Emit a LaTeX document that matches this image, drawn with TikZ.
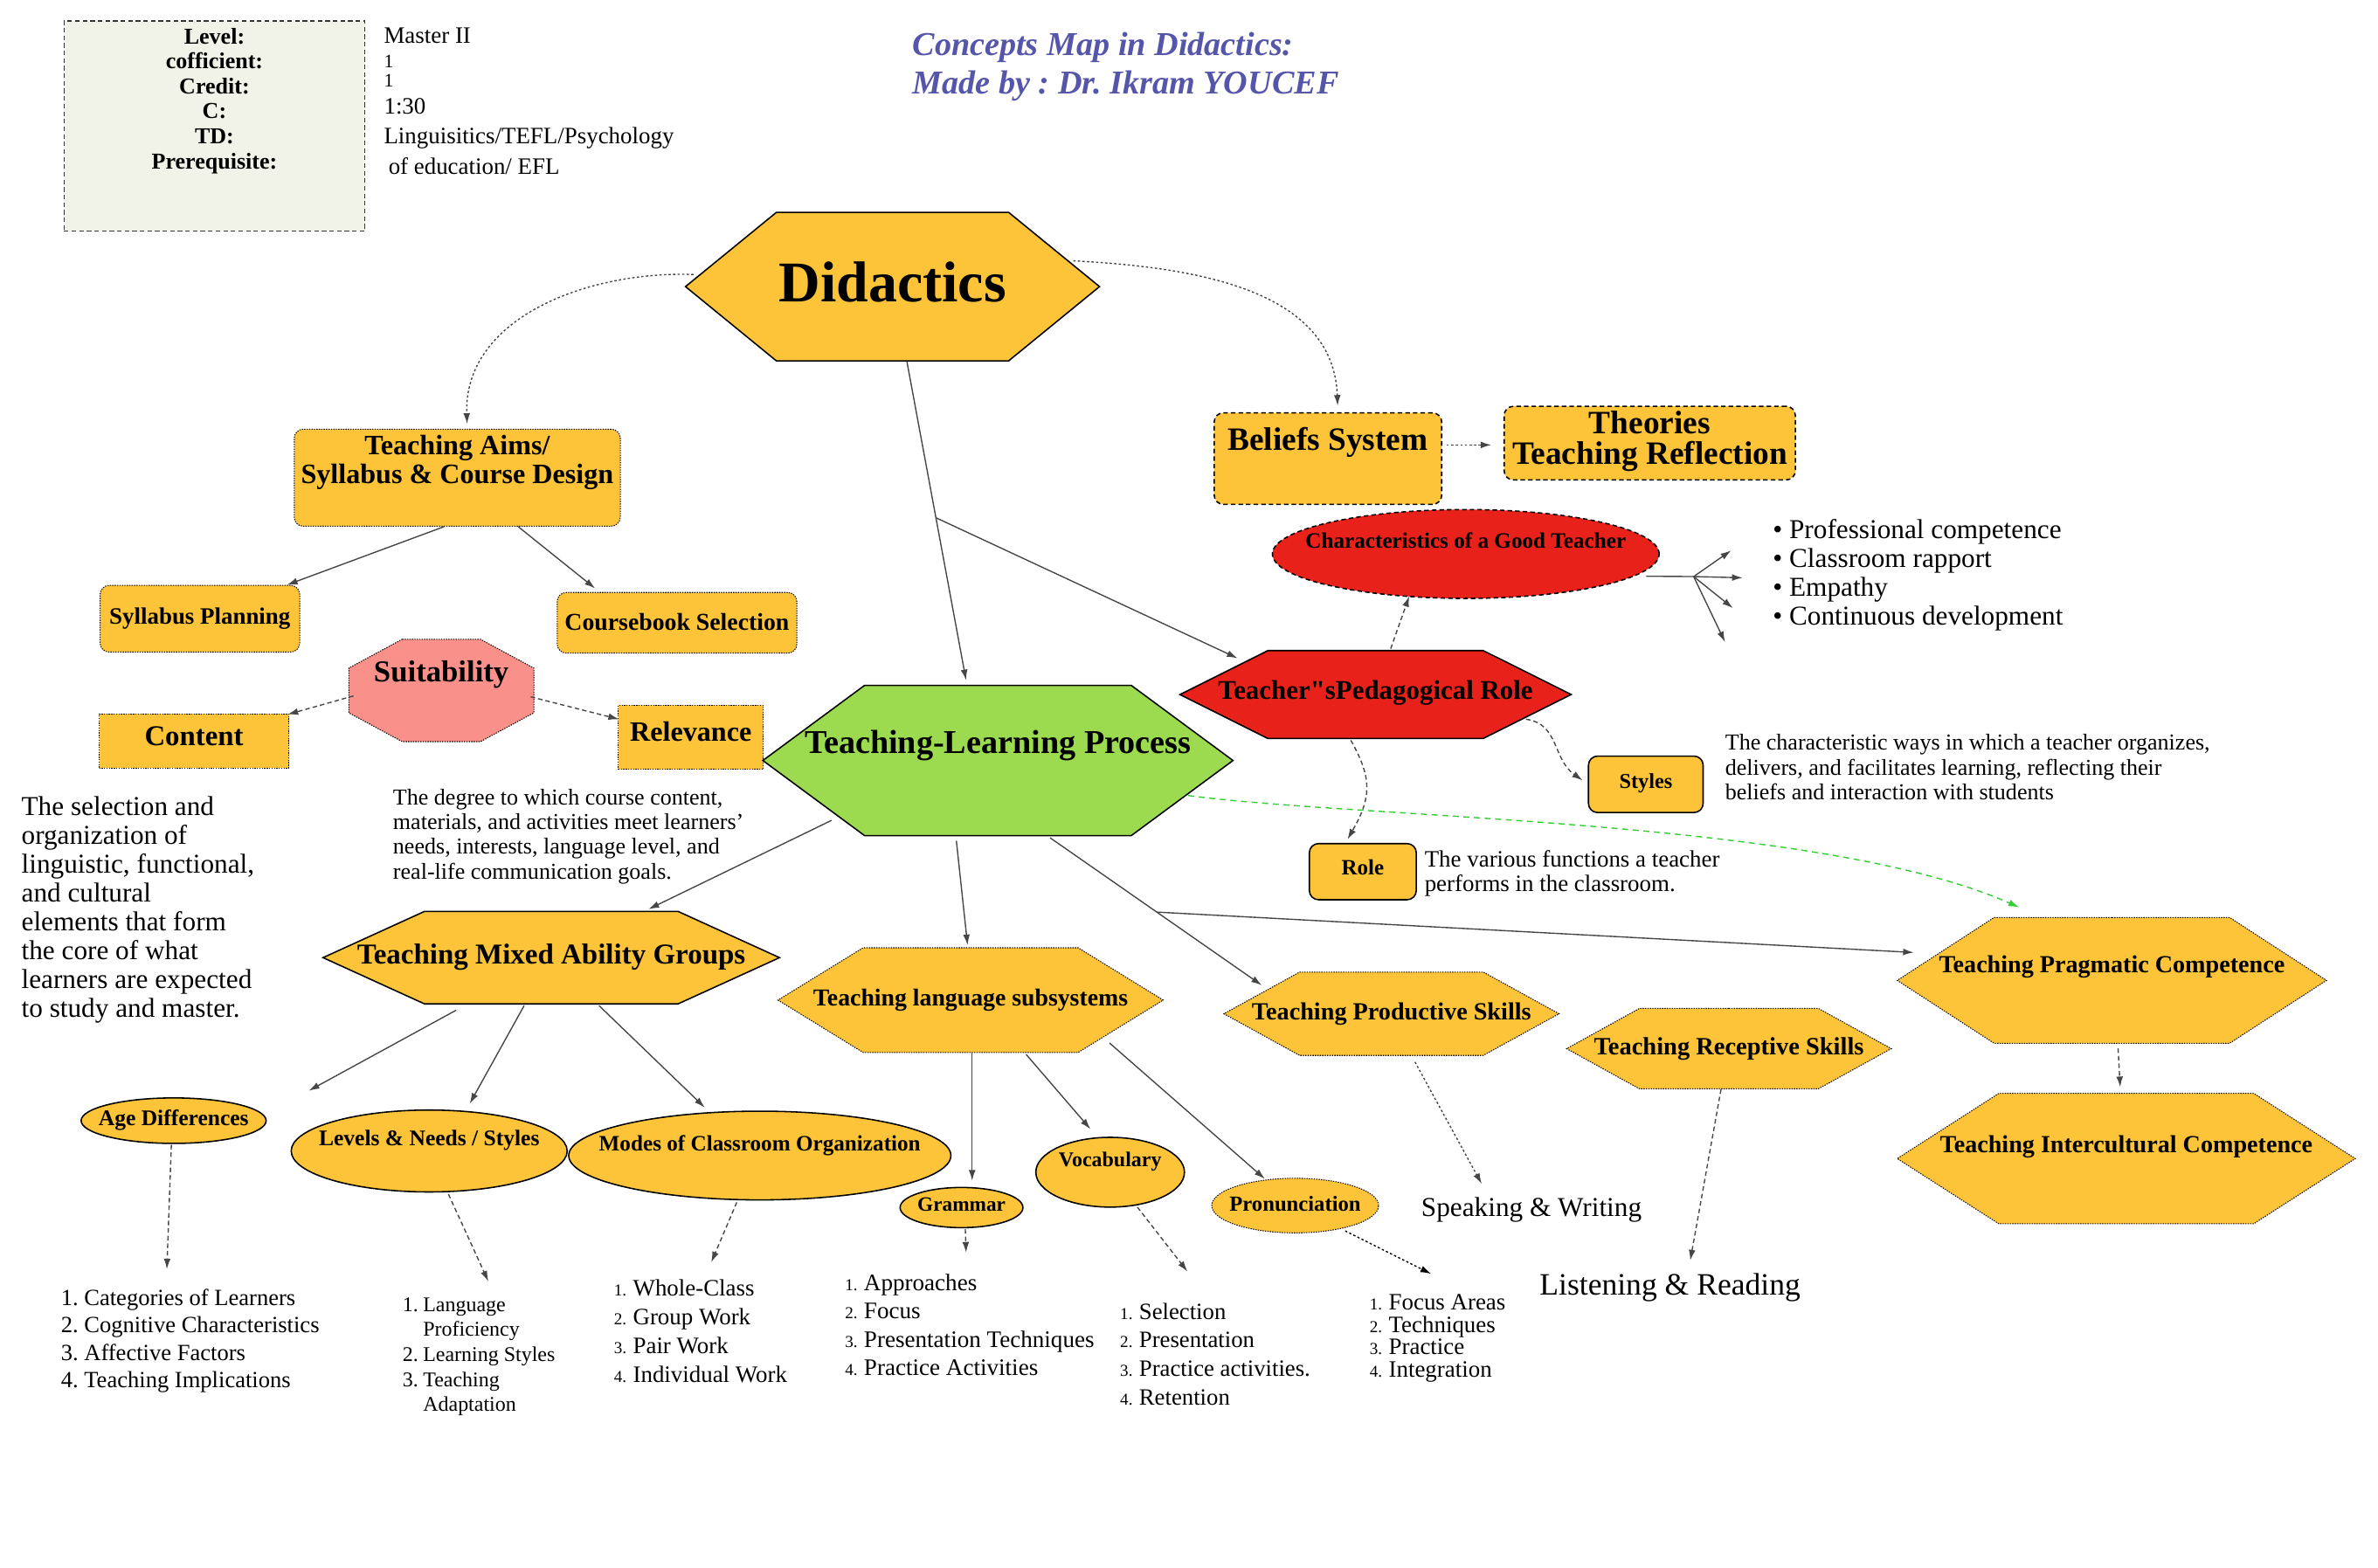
\documentclass[tikz,border=0pt]{standalone}
\usepackage{fontspec}
\setmainfont{Liberation Serif}
\usepackage{xcolor}
\usetikzlibrary{arrows.meta,calc,shapes.geometric,shapes.symbols}

\definecolor{cardyellow}{RGB}{253,196,58}
\definecolor{procgreen}{RGB}{156,219,79}
\definecolor{rolered}{RGB}{232,34,26}
\definecolor{suitpink}{RGB}{249,145,138}
\definecolor{infobg}{RGB}{242,243,232}
\definecolor{titleblue}{RGB}{85,85,170}
\definecolor{linkgray}{RGB}{70,70,70}
\definecolor{linkgreen}{RGB}{50,205,50}

\newcommand\fsz[2]{\fontsize{#1}{#2}\selectfont}
\newcommand\lnum[1]{\makebox[13.5pt][l]{#1.}}
\newcommand\snum[1]{\makebox[12.5pt][l]{\fsz{11}{11}#1.}}

\tikzset{
  hexa/.style={signal, signal to=east and west, draw=black, fill=cardyellow,
               inner sep=0pt, line width=0.9pt},
  card/.style={rectangle, draw=black, fill=cardyellow, inner sep=0pt,
               line width=0.9pt},
  rcard/.style={card, rounded corners=6pt},
  oval/.style={ellipse, draw=black, fill=cardyellow, inner sep=0pt,
               line width=0.9pt},
  dotline/.style={line width=0.6pt, dash pattern=on 0.8pt off 0.8pt},
  dashline/.style={dash pattern=on 3pt off 2pt},
  tag/.style={inner sep=0pt, align=center},
  note/.style={inner sep=0pt, align=left, anchor=north west},
  link/.style={-{Latex[length=7pt,width=4.5pt]}, draw=linkgray, line width=0.8pt},
  dlink/.style={link, dash pattern=on 3pt off 2pt},
  tlink/.style={link, dash pattern=on 1.5pt off 1.5pt},
  glink/.style={link, draw=linkgreen, dash pattern=on 4pt off 3pt},
}

\begin{document}
\frenchspacing
\begin{tikzpicture}[x=1pt, y=1pt]
  \useasboundingbox (0,0) rectangle (1568,-1034);

  %--- Header ---------------------------------------------------------------
  \node[rectangle, draw=black!80, fill=infobg, dashline, line width=0.8pt,
        minimum width=198.4, minimum height=138.5] (info) at (141.4,-83) {};
  \node[note, anchor=north, align=center, font=\fsz{15}{16.5}\bfseries]
       (infokeys) at (141.4,-18.2)
       {Level:\\cofficient:\\Credit:\\C:\\TD:\\Prerequisite:};
  \node[note, font=\fsz{15.5}{16.3}] (infovals) at (253,-18)
       {Master II\\{\fsz{12.5}{16.3}1}\\[-3.8pt]{\fsz{12.5}{16.3}1}\\[1.9pt]1:30\\[3pt]%
        Linguisitics/TEFL/Psychology\\[3.8pt]\hspace*{3pt}of education/ EFL};
  \node[note, font=\fsz{22}{25.3}\bfseries\itshape, text=titleblue]
       (title) at (601.5,-21.3)
       {Concepts Map in Didactics:\\Made by : Dr. Ikram YOUCEF};

  %--- Top level ------------------------------------------------------------
  \node[hexa, minimum width=273, minimum height=98, signal pointer angle=78.5,
        label={[name=did-t, tag, font=\fsz{38}{40}\bfseries, yshift=3]center:Didactics}]
       (did) at (588.5,-189) {};
  \node[rcard, dotline, minimum width=215, minimum height=64,
        label={[name=aims-t, tag, font=\fsz{18.5}{19.2}\bfseries, yshift=10.2]center:Teaching Aims/\\Syllabus \& Course Design}]
       (aims) at (301.5,-315) {};
  \node[rcard, dotline, minimum width=131.6, minimum height=44,
        label={[name=syl-t, tag, font=\fsz{15.5}{18}\bfseries]center:Syllabus Planning}]
       (syl) at (131.8,-408) {};
  \node[rcard, dotline, minimum width=158, minimum height=40,
        label={[name=book-t, tag, font=\fsz{16}{18}\bfseries, yshift=0.6]center:Coursebook Selection}]
       (book) at (446.4,-410.7) {};

  %--- Suitability octagon --------------------------------------------------
  \coordinate (suitC) at (291,-455.3);
  \draw[dotline, draw=black, fill=suitpink] ($(suitC)+(-25.8,33.75)$)
       -- ++(51.6,0) -- ++(35.2,-19) -- ++(0,-29.5) -- ++(-35.2,-19)
       -- ++(-51.6,0) -- ++(-35.2,19) -- ++(0,29.5) -- cycle;
  \node[inner sep=0pt, minimum width=122, minimum height=67.5,
        label={[name=suit-t, tag, font=\fsz{20}{22}\bfseries, yshift=10.7]center:Suitability}]
       (suit) at (suitC) {};

  \node[card, dotline, minimum width=125, minimum height=35.5,
        label={[name=content-t, tag, font=\fsz{18.9}{20}\bfseries, yshift=3.2]center:Content}]
       (content) at (127.9,-488.6) {};
  \node[card, dotline, minimum width=95.5, minimum height=42.3,
        label={[name=relev-t, tag, font=\fsz{18.5}{20}\bfseries, yshift=3.8]center:Relevance}]
       (relev) at (455.5,-486.2) {};

  %--- Teacher side ---------------------------------------------------------
  \node[rcard, dashline, minimum width=150, minimum height=60.3,
        label={[name=beliefs-t, tag, font=\fsz{21.5}{22}\bfseries, yshift=10.7]center:Beliefs System}]
       (beliefs) at (875.6,-302.4) {};
  \node[rcard, dashline, minimum width=192, minimum height=48.5,
        label={[name=theo-t, tag, font=\fsz{21.5}{20.2}\bfseries, yshift=1]center:Theories\\Teaching Reflection}]
       (theo) at (1087.8,-292.2) {};
  \node[oval, dashline, fill=rolered, minimum width=255, minimum height=58.6,
        label={[name=charac-t, tag, font=\fsz{14.5}{16}\bfseries, yshift=9.1]center:Characteristics of a Good Teacher}]
       (charac) at (966.5,-365.3) {};
  \node[hexa, fill=rolered, minimum width=258, minimum height=58, signal pointer angle=53.1,
        label={[name=role-t, tag, font=\fsz{17.8}{20}\bfseries, yshift=1.3]center:Teacher\textquotedbl sPedagogical Role}]
       (role) at (907,-458) {};
  \node[rcard, minimum width=75.6, minimum height=37.2,
        label={[name=styles-t, tag, font=\fsz{14}{16}\bfseries, yshift=0.5]center:Styles}]
       (styles) at (1085.2,-517.2) {};
  \node[rcard, minimum width=70.5, minimum height=37,
        label={[name=rolebox-t, tag, font=\fsz{14.4}{16}\bfseries, yshift=2.7]center:Role}]
       (rolebox) at (898.6,-574.8) {};

  %--- Process and its branches ---------------------------------------------
  \node[hexa, fill=procgreen, minimum width=310, minimum height=99, signal pointer angle=72.9,
        label={[name=tlp-t, tag, font=\fsz{22}{24}\bfseries, yshift=9.6]center:Teaching-Learning Process}]
       (tlp) at (658,-501.5) {};
  \node[hexa, minimum width=301, minimum height=61, signal pointer angle=49,
        label={[name=mixed-t, tag, font=\fsz{19}{21}\bfseries, yshift=0.5]center:Teaching Mixed Ability Groups}]
       (mixed) at (363.5,-631.5) {};
  \node[hexa, dotline, minimum width=254, minimum height=69, signal pointer angle=63.2,
        label={[name=lang-t, tag, font=\fsz{16}{18}\bfseries]center:Teaching language subsystems}]
       (lang) at (640,-659.5) {};
  \node[hexa, dotline, minimum width=221, minimum height=55, signal pointer angle=57.6,
        label={[name=prod-t, tag, font=\fsz{16.25}{18}\bfseries]center:Teaching Productive Skills}]
       (prod) at (917.5,-668.5) {};
  \node[hexa, dotline, minimum width=214, minimum height=53, signal pointer angle=57.8,
        label={[name=recep-t, tag, font=\fsz{16.4}{18}\bfseries]center:Teaching Receptive Skills}]
       (recep) at (1140,-691.5) {};
  \node[hexa, dotline, minimum width=283, minimum height=83, signal pointer angle=66,
        label={[name=prag-t, tag, font=\fsz{16.2}{18}\bfseries, yshift=8.8]center:Teaching Pragmatic Competence}]
       (prag) at (1392.5,-646.5) {};
  \node[hexa, dotline, minimum width=302, minimum height=86, signal pointer angle=65.4,
        label={[name=inter-t, tag, font=\fsz{16.2}{18}\bfseries, yshift=8]center:Teaching Intercultural Competence}]
       (inter) at (1402,-764) {};

  %--- Ovals ----------------------------------------------------------------
  \node[oval, minimum width=122, minimum height=30,
        label={[name=age-t, tag, font=\fsz{14.7}{16}\bfseries, yshift=0.4]center:Age Differences}]
       (age) at (114.5,-739) {};
  \node[oval, minimum width=182, minimum height=54,
        label={[name=levels-t, tag, font=\fsz{14.7}{16}\bfseries, yshift=6.8]center:Levels \& Needs / Styles}]
       (levels) at (283,-759) {};
  \node[oval, minimum width=252, minimum height=58.5,
        label={[name=modes-t, tag, font=\fsz{14.5}{16}\bfseries, yshift=6.5]center:Modes of Classroom Organization}]
       (modes) at (501,-762) {};
  \node[oval, minimum width=81, minimum height=26.5,
        label={[name=gram-t, tag, font=\fsz{13.4}{15}\bfseries, yshift=2]center:Grammar}]
       (gram) at (634,-796.3) {};
  \node[oval, minimum width=98, minimum height=46,
        label={[name=vocab-t, tag, font=\fsz{13.8}{15}\bfseries, yshift=7.2]center:Vocabulary}]
       (vocab) at (732,-773) {};
  \node[oval, dotline, minimum width=110, minimum height=36,
        label={[name=pron-t, tag, font=\fsz{14.2}{16}\bfseries, yshift=1.4]center:Pronunciation}]
       (pron) at (854,-795) {};

  %--- Notes ----------------------------------------------------------------
  \node[note, font=\fsz{18}{19.07}] (contentnote) at (14,-524.8)
       {The selection and\\organization of\\linguistic, functional,\\and cultural\\%
        elements that form\\the core of what\\learners are expected\\to study and master.};
  \node[note, font=\fsz{15}{16.3}] (relevnote) at (259,-520)
       {The degree to which course content,\\materials, and activities meet learners’\\%
        needs, interests, language level, and\\real-life communication goals.};
  \node[note, font=\fsz{18}{19}] (traits) at (1168.8,-342.5)
       {\textbullet\ Professional competence\\\textbullet\ Classroom rapport\\%
        \textbullet\ Empathy\\\textbullet\ Continuous development};
  \node[note, font=\fsz{15}{16.5}] (stylesnote) at (1137.4,-484)
       {The characteristic ways in which a teacher organizes,\\%
        delivers, and facilitates learning, reflecting their\\%
        beliefs and interaction with students};
  \node[note, font=\fsz{15.5}{16.4}] (rolenote) at (939.2,-560.4)
       {The various functions a teacher\\performs in the classroom.};
  \node[inner sep=0pt, anchor=west, font=\fsz{18}{20}] (speak) at (937,-798)
       {Speaking \& Writing};
  \node[inner sep=0pt, anchor=west, font=\fsz{20.5}{22}] (listen) at (1015,-849)
       {Listening \& Reading};

  %--- Lists ----------------------------------------------------------------
  \node[note, font=\fsz{15.3}{18}] (agelist) at (40,-850)
       {1. Categories of Learners\\2. Cognitive Characteristics\\%
        3. Affective Factors\\4. Teaching Implications};
  \node[note, font=\fsz{13.8}{16.5}] (levlist) at (265.3,-855.5)
       {\lnum1Language\\\hspace*{13.5pt}Proficiency\\\lnum2Learning Styles\\%
        \lnum3Teaching\\\hspace*{13.5pt}Adaptation};
  \node[note, font=\fsz{15.5}{19}] (modeslist) at (404.7,-843.5)
       {\snum1Whole-Class\\\snum2Group Work\\\snum3Pair Work\\\snum4Individual Work};
  \node[note, font=\fsz{15.6}{18.7}] (gramlist) at (557,-840)
       {\snum1Approaches\\\snum2Focus\\\snum3Presentation Techniques\\\snum4Practice Activities};
  \node[note, font=\fsz{15.4}{18.9}] (vocablist) at (738.4,-859)
       {\snum1Selection\\\snum2Presentation\\\snum3Practice activities.\\\snum4Retention};
  \node[note, font=\fsz{15.5}{14.7}] (pronlist) at (903,-853.5)
       {\snum1Focus Areas\\\snum2Techniques\\\snum3Practice\\\snum4Integration};

  %--- Links from Didactics -------------------------------------------------
  \coordinate (didS) at ($(did.south)+(9.5,0)$);
  \coordinate (tlpN) at ($(tlp.north)+(-21,3)$);
  \draw[link] (didS) -- (tlpN);
  \draw[link] ($(didS)!0.49!(tlpN)$) -- ($(role.north)+(-91,-5.5)$);
  \draw[tlink] ($(did.west)+(6,8)$) to[out=178,in=92] ($(aims.north)+(6.5,3.2)$);
  \draw[tlink] ($(did.east)+(-18,17)$) to[out=-3,in=92] ($(beliefs.north)+(6.4,4.3)$);

  %--- Syllabus side --------------------------------------------------------
  \draw[link] ($(aims.south)+(-8.7,0)$) -- ($(syl.north)+(57.4,0)$);
  \draw[link] ($(aims.south)+(40.2,0)$) -- ($(book.north)+(-54,2.4)$);
  \draw[dlink] ($(suit.west)+(3.3,-3.6)$) -- ($(content.north east)+(-1.1,-0.6)$);
  \draw[dlink] ($(suit.east)+(-2.3,-4.2)$) -- ($(relev.west)+(0.7,11.9)$);

  %--- Teacher side ---------------------------------------------------------
  \draw[tlink] ($(beliefs.east)+(2.8,9)$) -- ($(theo.west)+(-8,-1.2)$);
  \draw[dlink] ($(role.north)+(10,0.8)$) -- ($(charac.south)+(-37.3,1.9)$);
  \draw[linkgray, line width=0.8pt] ($(charac.east)+(-9,-14.7)$) -- ++(31.3,-0.2)
       coordinate (hub);
  \foreach \dx/\dy in {24.7/17.2, 32.3/-0.8, 25.9/-20.8, 20.7/-43.2}
    \draw[link] (hub) -- ++(\dx,\dy);
  \draw[dlink] ($(role.east)+(-30.8,-16.3)$) .. controls +(22,-3) and +(-20,14)
       .. ($(styles.west)+(-3.4,2.6)$);
  \draw[dlink] ($(role.south)+(-16.3,-0.7)$) .. controls +(14,-25) and +(16,28)
       .. ($(rolebox.north)+(-10.1,2.3)$);
  \draw[glink] ($(tlp.east)+(-30.3,-23.1)$) .. controls (900,-540) and (1200,-540)
       .. ($(prag.north)+(-61.2,6.4)$);

  %--- Links from the process -----------------------------------------------
  \coordinate (prodA) at ($(tlp.south)+(34.4,-1)$);
  \coordinate (prodB) at ($(prod.north)+(-85.5,-9)$);
  \draw[link] (prodA) -- (prodB);
  \draw[link] ($(prodA)!0.504!(prodB)$) -- ($(prag.west)+(11.4,18.4)$);
  \draw[link] ($(tlp.south)+(-27.4,-3)$) -- ($(lang.north)+(-2,1.4)$);
  \draw[link] ($(tlp.west)+(46,-39.5)$) -- ($(mixed.north)+(64.1,1)$);

  %--- Mixed ability groups -------------------------------------------------
  \draw[link] ($(mixed.south)+(-62.7,-3.7)$) -- ($(age.north)+(89.1,4.3)$);
  \draw[link] ($(mixed.south)+(-17.9,-0.7)$) -- ($(levels.north)+(26.7,3.7)$);
  \draw[link] ($(mixed.south)+(31.5,-0.7)$) -- ($(modes.north)+(-36.3,2)$);
  \draw[dlink] ($(age.south)+(-1.5,-0.5)$) -- ($(agelist.north west)+(70,13)$);
  \draw[dlink] ($(levels.south)+(12.7,-1)$) -- ($(levlist.north west)+(56.7,10.5)$);
  \draw[dlink] ($(modes.south)+(-15.2,-1.2)$) -- ($(modeslist.north west)+(64.3,11.1)$);

  %--- Language subsystems --------------------------------------------------
  \draw[link] ($(lang.south)+(1,0)$) -- ($(gram.north)+(7,4)$);
  \draw[link] ($(lang.south)+(36.6,-1)$) -- ($(vocab.north)+(-13,5)$);
  \draw[link] ($(lang.south)+(91.6,6.5)$) -- ($(pron.north)+(-20,-0.7)$);
  \draw[dlink] ($(gram.south)+(2.5,-0.5)$) -- ($(gramlist.north west)+(80,14)$);
  \draw[dlink] ($(vocab.south)+(18,0.4)$) -- ($(vocablist.north west)+(44.6,20.5)$);
  \draw[tlink, draw=black] ($(pron.south)+(33,1.6)$) -- ($(pronlist.north west)+(40.6,13.5)$);

  %--- Skills and competences -----------------------------------------------
  \draw[tlink] ($(prod.south)+(15.5,-4)$) -- ($(speak.north west)+(40,8.9)$);
  \draw[dlink] ($(recep.south)+(-5.2,0)$) -- ($(listen.north west)+(99.5,8.3)$);
  \draw[dlink] ($(prag.south)+(4.1,-3)$) -- ($(inter.north)+(-4,3.8)$);

\end{tikzpicture}
\end{document}
